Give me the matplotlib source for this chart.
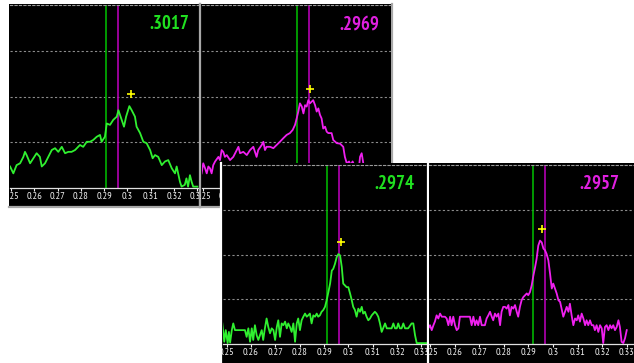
import numpy as np
import matplotlib
matplotlib.use('Agg')
import matplotlib.pyplot as plt
from matplotlib.ticker import FixedLocator
from matplotlib.transforms import Bbox, TransformedBbox

W, H = 634, 363

# --- espectros (longitud de onda, intensidad relativa) ---
verde1_x = [0.2496, 0.2510, 0.2524, 0.2539, 0.2553, 0.2560, 0.2567, 0.2582, 0.2596, 0.2610,
            0.2624, 0.2632, 0.2646, 0.2660, 0.2675, 0.2689, 0.2703, 0.2718, 0.2732, 0.2746,
            0.2760, 0.2775, 0.2796, 0.2810, 0.2825, 0.2839, 0.2853, 0.2868, 0.2882, 0.2889,
            0.2903, 0.2911, 0.2925, 0.2939, 0.2954, 0.2961, 0.2975, 0.2985, 0.2994, 0.3008,
            0.3018, 0.3032, 0.3039, 0.3054, 0.3068, 0.3082, 0.3097, 0.3108, 0.3118, 0.3132,
            0.3147, 0.3161, 0.3175, 0.3190, 0.3204, 0.3211, 0.3225, 0.3232, 0.3246, 0.3253,
            0.3260, 0.3268, 0.3275, 0.3282, 0.3289, 0.3300]
verde1_y = [0.47, 0.32, 0.50, 0.54, 0.68, 0.79, 0.72, 0.54, 0.65, 0.76,
            0.68, 0.47, 0.54, 0.68, 0.83, 0.87, 0.79, 0.90, 0.76, 0.79,
            0.79, 0.83, 0.94, 0.90, 1.01, 1.01, 1.05, 1.12, 1.16, 1.01,
            1.12, 1.41, 1.38, 1.49, 1.56, 1.70, 1.49, 1.34, 1.56, 1.79,
            1.70, 1.56, 1.34, 1.20, 1.01, 0.98, 0.83, 0.65, 0.72, 0.68,
            0.50, 0.58, 0.61, 0.43, 0.32, 0.47, 0.14, 0.03, 0.07, 0.21,
            0.03, 0.28, 0.14, 0.03, 0.03, 0.03]

magenta1_x = [0.2494, 0.2501, 0.2509, 0.2516, 0.2523, 0.2530, 0.2537, 0.2544, 0.2552, 0.2566,
              0.2573, 0.2580, 0.2587, 0.2594, 0.2602, 0.2616, 0.2630, 0.2645, 0.2652, 0.2659,
              0.2673, 0.2688, 0.2702, 0.2716, 0.2730, 0.2737, 0.2752, 0.2759, 0.2766, 0.2773,
              0.2788, 0.2802, 0.2816, 0.2830, 0.2845, 0.2859, 0.2873, 0.2885, 0.2895, 0.2902,
              0.2909, 0.2916, 0.2924, 0.2931, 0.2938, 0.2945, 0.2952, 0.2959, 0.2967, 0.2973,
              0.2981, 0.2988, 0.2995, 0.3002, 0.3009, 0.3016, 0.3024, 0.3031, 0.3038, 0.3052,
              0.3059, 0.3074, 0.3088, 0.3102, 0.3109, 0.3117, 0.3127, 0.3134, 0.3142, 0.3152,
              0.3167, 0.3174, 0.3181, 0.3188, 0.3195, 0.3210, 0.3230, 0.3250, 0.3270, 0.3290,
              0.3305]
magenta1_y = [0.32, 0.54, 0.43, 0.32, 0.47, 0.43, 0.32, 0.50, 0.58, 0.68,
              0.61, 0.83, 0.79, 0.68, 0.72, 0.61, 0.68, 0.83, 0.90, 0.76,
              0.79, 0.72, 0.83, 0.90, 0.68, 0.83, 0.94, 1.01, 0.83, 0.90,
              0.90, 0.87, 0.94, 1.01, 1.09, 1.16, 1.20, 1.27, 1.38, 1.52,
              1.67, 1.85, 1.78, 1.63, 1.81, 1.78, 1.92, 1.85, 1.89, 1.92,
              1.81, 1.67, 1.74, 1.60, 1.52, 1.30, 1.34, 1.23, 1.20, 1.20,
              1.05, 0.98, 0.97, 0.90, 0.68, 0.54, 0.58, 0.50, 0.58, 0.47,
              0.32, 0.68, 0.76, 0.54, 0.40, 0.35, 0.25, 0.30, 0.15, 0.20,
              0.10]

verde2_x = [0.2482, 0.2490, 0.2496, 0.2504, 0.2509, 0.2514, 0.2521, 0.2527, 0.2534, 0.2548,
            0.2562, 0.2575, 0.2582, 0.2589, 0.2596, 0.2603, 0.2609, 0.2616, 0.2623, 0.2630,
            0.2644, 0.2650, 0.2657, 0.2664, 0.2671, 0.2678, 0.2685, 0.2692, 0.2699, 0.2706,
            0.2712, 0.2719, 0.2726, 0.2733, 0.2740, 0.2747, 0.2753, 0.2760, 0.2767, 0.2774,
            0.2781, 0.2788, 0.2794, 0.2801, 0.2808, 0.2815, 0.2822, 0.2829, 0.2835, 0.2842,
            0.2849, 0.2856, 0.2863, 0.2870, 0.2876, 0.2883, 0.2890, 0.2897, 0.2904, 0.2911,
            0.2918, 0.2925, 0.2932, 0.2938, 0.2945, 0.2952, 0.2959, 0.2966, 0.2973, 0.2979,
            0.2986, 0.2993, 0.3000, 0.3007, 0.3014, 0.3020, 0.3027, 0.3034, 0.3041, 0.3048,
            0.3055, 0.3061, 0.3068, 0.3075, 0.3082, 0.3089, 0.3096, 0.3109, 0.3116, 0.3123,
            0.3130, 0.3137, 0.3151, 0.3158, 0.3164, 0.3178, 0.3185, 0.3192, 0.3199, 0.3205,
            0.3212, 0.3219, 0.3226, 0.3233, 0.3246, 0.3260, 0.3267, 0.3274, 0.3281, 0.3294,
            0.3320]
verde2_y = [0.46, 0.05, 0.31, 0.02, 0.27, 0.03, 0.31, 0.46, 0.31, 0.31,
            0.31, 0.31, 0.16, 0.35, 0.05, 0.35, 0.09, 0.42, 0.20, 0.09,
            0.31, 0.09, 0.35, 0.57, 0.38, 0.24, 0.35, 0.31, 0.09, 0.38,
            0.53, 0.16, 0.46, 0.42, 0.50, 0.35, 0.46, 0.38, 0.27, 0.46,
            0.05, 0.46, 0.57, 0.31, 0.53, 0.61, 0.68, 0.61, 0.64, 0.68,
            0.46, 0.64, 0.61, 0.68, 0.61, 0.64, 0.72, 0.76, 0.83, 0.98,
            1.16, 1.35, 1.64, 1.68, 1.79, 1.94, 2.01, 1.98, 1.72, 1.35,
            1.31, 1.27, 1.27, 1.13, 0.98, 0.83, 0.76, 0.61, 0.79, 0.72,
            0.83, 0.68, 0.72, 0.61, 0.53, 0.57, 0.64, 0.72, 0.68, 0.61,
            0.46, 0.27, 0.46, 0.35, 0.35, 0.35, 0.46, 0.35, 0.35, 0.46,
            0.35, 0.35, 0.46, 0.35, 0.35, 0.46, 0.46, 0.20, 0.02, 0.02,
            0.02]

magenta2_x = [0.2491, 0.2498, 0.2505, 0.2512, 0.2518, 0.2525, 0.2532, 0.2539, 0.2546, 0.2559,
              0.2566, 0.2573, 0.2580, 0.2586, 0.2593, 0.2600, 0.2607, 0.2614, 0.2620, 0.2634,
              0.2648, 0.2661, 0.2668, 0.2675, 0.2682, 0.2688, 0.2695, 0.2702, 0.2709, 0.2722,
              0.2729, 0.2736, 0.2743, 0.2750, 0.2756, 0.2763, 0.2770, 0.2777, 0.2784, 0.2790,
              0.2797, 0.2804, 0.2811, 0.2818, 0.2824, 0.2831, 0.2838, 0.2845, 0.2852, 0.2858,
              0.2865, 0.2872, 0.2879, 0.2886, 0.2893, 0.2899, 0.2906, 0.2913, 0.2920, 0.2927,
              0.2933, 0.2940, 0.2947, 0.2954, 0.2961, 0.2967, 0.2974, 0.2981, 0.2988, 0.2995,
              0.3001, 0.3008, 0.3015, 0.3022, 0.3029, 0.3035, 0.3042, 0.3049, 0.3056, 0.3063,
              0.3069, 0.3076, 0.3083, 0.3090, 0.3097, 0.3103, 0.3110, 0.3117, 0.3124, 0.3131,
              0.3137, 0.3144, 0.3151, 0.3158, 0.3165, 0.3171, 0.3178, 0.3185, 0.3192, 0.3199,
              0.3205, 0.3212, 0.3219, 0.3226, 0.3233, 0.3239, 0.3246, 0.3253, 0.3260, 0.3267,
              0.3273, 0.3280, 0.3287, 0.3294, 0.3301]
magenta2_y = [0.35, 0.42, 0.31, 0.42, 0.50, 0.64, 0.57, 0.68, 0.61, 0.61,
              0.57, 0.42, 0.61, 0.42, 0.61, 0.42, 0.31, 0.35, 0.61, 0.61,
              0.61, 0.61, 0.42, 0.61, 0.42, 0.53, 0.42, 0.61, 0.42, 0.42,
              0.57, 0.64, 0.72, 0.61, 0.53, 0.68, 0.61, 0.68, 0.42, 0.72,
              0.83, 0.83, 0.79, 0.87, 0.64, 0.83, 0.79, 0.87, 0.72, 0.61,
              0.83, 0.98, 1.05, 1.09, 1.13, 1.09, 1.16, 1.31, 1.53, 1.72,
              1.90, 2.20, 2.31, 2.27, 2.13, 2.10, 2.01, 1.87, 1.57, 1.24,
              1.35, 1.24, 1.13, 0.98, 0.94, 0.79, 0.61, 0.72, 0.83, 0.72,
              0.90, 0.64, 0.42, 0.57, 0.53, 0.64, 0.50, 0.68, 0.57, 0.42,
              0.53, 0.42, 0.53, 0.42, 0.42, 0.31, 0.42, 0.27, 0.42, 0.35,
              0.02, 0.38, 0.42, 0.31, 0.42, 0.35, 0.42, 0.31, 0.38, 0.53,
              0.38, 0.05, 0.02, 0.13, 0.31]

# lineas de referencia (verde, magenta) y maximo marcado con la cruz
refs = [(0.2906, 0.2958), (0.2905, 0.2955), (0.2911, 0.2963), (0.2917, 0.2967)]
cruces = [(0.3014, 2.05), (0.2959, 2.16), (0.2969, 2.27), (0.2955, 2.57)]
titulos = ['.3017', '.2969', '.2974', '.2957']

ticks = [0.25, 0.26, 0.27, 0.28, 0.29, 0.30, 0.31, 0.32, 0.33]
tick_labels = ['0.25', '0.26', '0.27', '0.28', '0.29', '0.3', '0.31', '0.32', '0.33']

VERDE = '#30f030'
MAGENTA = '#f020f0'
FUENTE = ['PT Sans Narrow', 'Liberation Sans Narrow', 'DejaVu Sans']

fig = plt.figure(figsize=(W / 100, H / 100), dpi=100, facecolor='white')


def caja(x0, y0, x1, y1):
    # pixeles (origen arriba a la izquierda) -> fraccion de figura
    return [x0 / W, 1 - y1 / H, (x1 - x0) / W, (y1 - y0) / H]


def panel(marco, zona, xlim, x, y, color, n, color_titulo, bordes, xt):
    fondo = fig.add_axes(caja(*marco))
    fondo.set_facecolor('black')
    fondo.set_xticks([])
    fondo.set_yticks([])
    for lado, sp in fondo.spines.items():
        if lado in bordes:
            sp.set_color(bordes[lado])
            sp.set_linewidth(1.6)
        else:
            sp.set_visible(False)

    ax = fig.add_axes(caja(*zona))
    ax.set_facecolor('black')
    ax.set_xlim(xlim)
    ax.set_ylim(0, 4)
    ax.set_yticks([1, 2, 3])
    ax.yaxis.grid(True, color='#8c8c8c', linestyle=(0, (2, 2)), lw=0.8)
    ax.tick_params(axis='y', length=0, labelleft=False)
    ax.xaxis.set_major_locator(FixedLocator(ticks))
    ax.set_xticklabels(tick_labels, family=FUENTE)
    ax.tick_params(axis='x', colors='#f0f0f0', labelsize=7.5, length=2, pad=0.8, width=0.8)
    for lado in ['left', 'right']:
        ax.spines[lado].set_visible(False)
    ax.spines['top'].set_color('#9a9a9a')
    ax.spines['top'].set_linestyle((0, (2, 2)))
    ax.spines['top'].set_linewidth(0.8)
    ax.spines['bottom'].set_color('#e0e0e0')
    ax.spines['bottom'].set_linestyle((0, (1.5, 1)))
    ax.spines['bottom'].set_linewidth(0.9)

    # recortar etiquetas al marco del panel
    clip = TransformedBbox(Bbox.from_bounds(*caja(*marco)), fig.transFigure)
    for t in ax.xaxis.get_major_ticks():
        t.label1.set_clip_on(True)
        t.label1.set_clip_box(clip)

    ax.axvline(refs[n][0], color='#00b400', lw=1.2, zorder=2)
    ax.axvline(refs[n][1], color='#b400b4', lw=1.2, zorder=2)
    ax.plot(x, y, color=color, lw=1.3, zorder=3)
    ax.plot(cruces[n][0], cruces[n][1], marker='+', ls='none', color='#ffff00',
            ms=6, mew=1.2, zorder=4)
    ax.text(xt, 0.895, titulos[n], transform=ax.transAxes, ha='right', va='center',
            color=color_titulo, fontsize=13.5, fontweight='bold', family=FUENTE)
    return ax


gris = '#a8a8a8'
panel((9, 4, 200, 207), (10, 5, 199, 188), (0.24957, 0.33069), verde1_x, verde1_y,
      VERDE, 0, '#20e020', {'right': gris, 'bottom': gris}, 0.947)
panel((200, 4, 392, 207), (202, 5, 391, 188), (0.24957, 0.33069), magenta1_x, magenta1_y,
      MAGENTA, 1, '#e020e0', {'left': gris, 'right': gris, 'bottom': gris}, 0.94)
panel((221, 163, 428, 363), (223, 165, 427, 344), (0.24848, 0.33233), verde2_x, verde2_y,
      VERDE, 2, '#20e020', {'left': 'white'}, 0.936)
panel((428, 163, 634, 363), (429, 165, 634, 344), (0.24939, 0.33306), magenta2_x, magenta2_y,
      MAGENTA, 3, '#e020e0', {'left': 'white'}, 0.93)

fig.savefig('out.png', dpi=100, facecolor='white')
